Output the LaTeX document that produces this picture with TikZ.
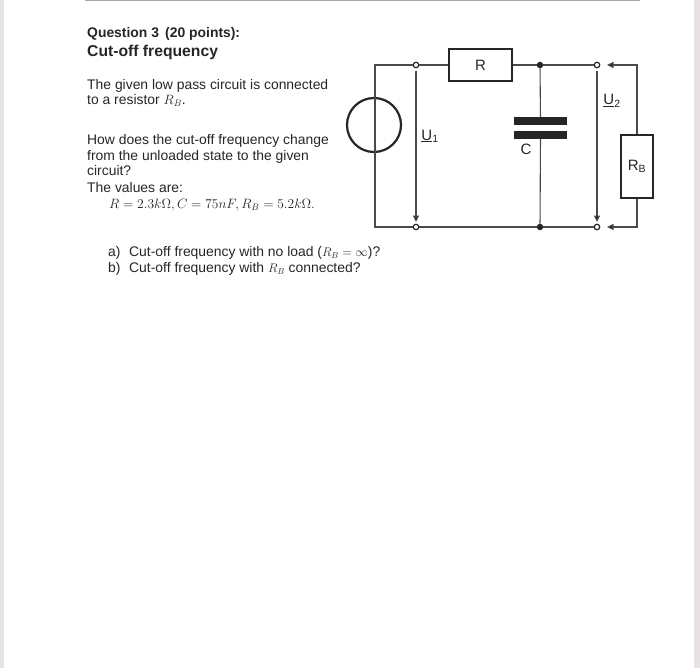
\documentclass[tikz,border=0pt]{standalone}
\usepackage{graphicx}
\usepackage{fontspec}
\setmainfont{Liberation Sans}
\usetikzlibrary{arrows.meta}
\definecolor{wire}{HTML}{4A4A4A}
\definecolor{ink}{HTML}{262626}
\definecolor{strip}{HTML}{E8E2E3}
\newcommand{\scaledmath}[2]{\scalebox{#1}{$#2$}}
\tikzset{x=1pt,y=-1pt,
 txt/.style={anchor=base west,inner sep=0pt,text=ink,font=\fontsize{13.9}{16}\selectfont},
 head/.style={txt,font=\fontsize{13.9}{16}\bfseries\selectfont},
 headb/.style={txt,font=\fontsize{15.7}{18}\bfseries\selectfont},
 lab/.style={inner sep=0pt,text=ink,font=\fontsize{15}{17}\selectfont},
 wireline/.style={draw=wire,line width=1.1pt},
 resbox/.style={draw=ink,line width=1.4pt,fill=white,inner sep=0pt},
 term/.style={circle,draw=ink,fill=white,line width=1.2pt,minimum size=5.5pt,inner sep=0pt},
 junct/.style={circle,fill=ink,minimum size=6.5pt,inner sep=0pt},
 plate/.style={fill=ink,inner sep=0pt,minimum width=53pt,minimum height=8pt},
 arr/.style={wireline,-{Triangle[length=6.5pt,width=6pt,fill=ink]}}}
\begin{document}
\begin{tikzpicture}
\useasboundingbox (0,0) rectangle (700,668);
\fill[white] (0,0) rectangle (700,668);
\fill[strip] (0,0) rectangle (4,668);
\fill[strip] (694,0) rectangle (700,668);
\fill[gray!70] (85,0) rectangle (640,1.5);
% text
\node[head] (q) at (87,38) {Question 3\, (20 points):};
\node[headb] (t) at (87,56.5) {Cut-off frequency};
\node[txt] (l1) at (87,89.5) {The given low pass circuit is connected};
\node[txt] (l2) at (87,104.5) {to a resistor \scaledmath{0.94}{R_B}.};
\node[txt] (l3) at (87,144.5) {How does the cut-off frequency change};
\node[txt] (l4) at (87,160.5) {from the unloaded state to the given};
\node[txt] (l5) at (87,175.5) {circuit?};
\node[txt] (l6) at (87,192.5) {The values are:};
\node[txt] (l7) at (109,208.5) {\scaledmath{0.94}{R=2.3k\Omega,C=75nF,R_B=5.2k\Omega.}};
\node[txt] (a) at (108,256.5) {a)};
\node[txt] (at) at (129,256.5) {Cut-off frequency with no load (\scaledmath{0.87}{R_B=\infty})?};
\node[txt] (b) at (108,272.5) {b)};
\node[txt] (bt) at (129,272.5) {Cut-off frequency with \scaledmath{0.87}{R_B} connected?};
% circuit nodes
\coordinate (tl) at (375,65);
\coordinate (bl) at (375,227);
\node[term] (t1) at (416,65) {};
\node[term] (b1) at (416,227) {};
\node[resbox,minimum width=63pt,minimum height=32pt,lab] (R) at (480.5,65) {R};
\node[junct] (j1) at (540,65) {};
\node[junct] (j2) at (540,227) {};
\node[term] (t2) at (597,65) {};
\node[term] (b2) at (597,227) {};
\node[plate] (p1) at (540.5,121) {};
\node[plate] (p2) at (540.5,135) {};
\node[resbox,minimum width=32pt,minimum height=63pt,lab] (RB) at (637,166.5) {R\textsubscript{B}};
\coordinate (rt) at (637,65);
\coordinate (rb) at (637,227);
\coordinate (tipt) at (607,65);
\coordinate (tipb) at (607,227);
\coordinate (a1s) at (416,71);
\coordinate (a1e) at (416,222);
\coordinate (a2s) at (597,71);
\coordinate (a2e) at (597,222);
\node[circle,draw=ink,line width=2.2pt,minimum size=54pt,inner sep=0pt] (src) at (374,125) {};
% wires
\draw[wireline] (t1) -- (tl) -- (bl) -- (b1);
\draw[wireline] (t1) -- (R);
\draw[wireline] (R) -- (j1);
\draw[wireline] (j1) -- (t2);
\draw[wireline] (b1) -- (j2);
\draw[wireline] (j2) -- (b2);
\draw[wireline] (j1) -- (p1);
\draw[wireline] (p2) -- (j2);
\draw[arr] (RB) -- (rt) -- (tipt);
\draw[arr] (RB) -- (rb) -- (tipb);
\draw[arr] (a1s) -- (a1e);
\draw[arr] (a2s) -- (a2e);
% labels
\node[lab] (u1) at (430,136) {\underline{U}\textsubscript{1}};
\node[lab] (u2) at (612,101) {\underline{U}\textsubscript{2}};
\node[lab] (c) at (526,149) {C};
\end{tikzpicture}
\end{document}
